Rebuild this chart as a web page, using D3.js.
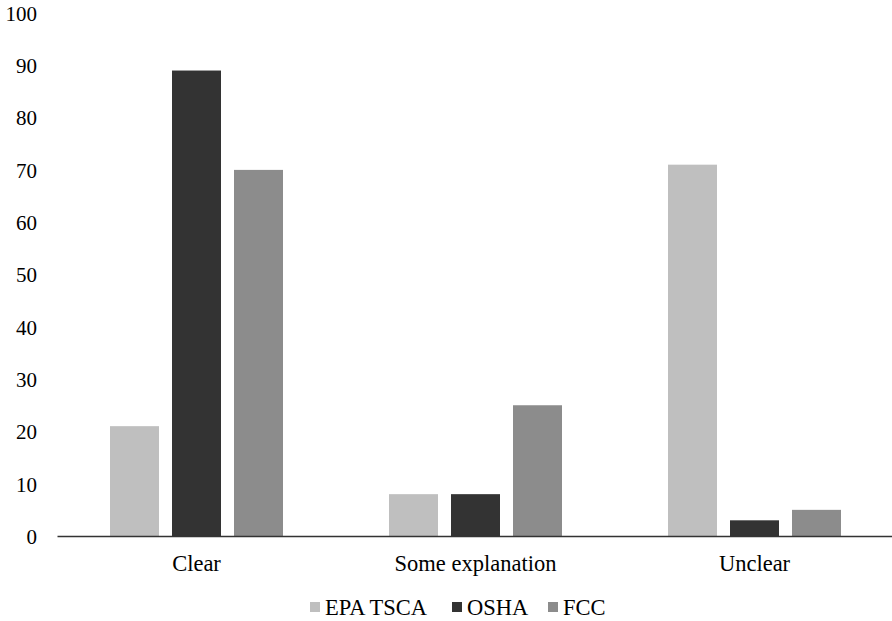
<!DOCTYPE html>
<html>
<head>
<meta charset="utf-8">
<script src="https://cdn.jsdelivr.net/npm/d3@7"></script>
<style>
  html, body { margin: 0; padding: 0; background: #fff; }
  svg { display: block; }
  svg text { font-family: "Liberation Serif", "Tinos", "Times New Roman", Times, "DejaVu Serif", serif; }
</style>
</head>
<body>
<svg id="chart" width="892" height="621"></svg>
<script>
// Categories and series values
const categories = ["Clear", "Some explanation", "Unclear"];
const seriesNames = ["EPA TSCA", "OSHA", "FCC"];
const epaTsca = [21, 8, 71];
const osha = [89, 8, 3];
const fcc = [70, 25, 5];
const yTicks = [0, 10, 20, 30, 40, 50, 60, 70, 80, 90, 100];
const colors = ["#bfbfbf", "#333333", "#8c8c8c"];

const seriesValues = [epaTsca, osha, fcc];
const rows = categories.map((c, i) => ({
  category: c,
  values: seriesNames.map((s, j) => ({ series: s, value: seriesValues[j][i], idx: j }))
}));

const svg = d3.select("#chart");
const plotLeft = 57, plotRight = 894, plotTop = 13, plotBottom = 536;

const x0 = d3.scaleBand().domain(categories).range([plotLeft, plotRight]).padding(0);
const x1 = d3.scaleBand().domain(seriesNames).range([-86.5, 86.5]).paddingInner(13 / 62).paddingOuter(0);
const y = d3.scaleLinear().domain([0, 100]).range([plotBottom, plotTop]);
const color = d3.scaleOrdinal().domain(seriesNames).range(colors);

// Y axis labels (no axis line or ticks)
const yAxis = d3.axisLeft(y).tickValues(yTicks).tickSize(0).tickPadding(0);
const yG = svg.append("g").attr("transform", "translate(37,0)").call(yAxis);
yG.attr("font-family", null);
yG.select(".domain").remove();
yG.selectAll("text")
  .attr("font-size", 21)
  .attr("fill", "#000")
  .attr("dy", "0.35em");

// Bars
const groups = svg.append("g").selectAll("g")
  .data(rows)
  .join("g")
  .attr("transform", d => `translate(${x0(d.category) + x0.bandwidth() / 2},0)`);

groups.selectAll("rect")
  .data(d => d.values)
  .join("rect")
  .attr("x", d => x1(d.series))
  .attr("width", x1.bandwidth())
  .attr("y", d => y(d.value))
  .attr("height", d => y(0) - y(d.value))
  .attr("fill", d => color(d.series));

// X axis baseline and category labels
const xAxis = d3.axisBottom(x0).tickSize(0).tickPadding(0);
const xG = svg.append("g").attr("transform", `translate(0,${plotBottom})`).call(xAxis);
xG.attr("font-family", null);
xG.select(".domain").attr("stroke", "#333").attr("stroke-width", 1.3);
xG.selectAll("text")
  .attr("font-size", 22.5)
  .attr("fill", "#000")
  .attr("y", 27)
  .attr("dy", "0.35em");

// Legend
const legendItems = [
  { name: "EPA TSCA", sq: 310, tx: 325 },
  { name: "OSHA", sq: 452, tx: 467 },
  { name: "FCC", sq: 548, tx: 563 }
];
const legend = svg.append("g");
legendItems.forEach(item => {
  legend.append("rect")
    .attr("x", item.sq).attr("y", 602)
    .attr("width", 10).attr("height", 10)
    .attr("fill", color(item.name));
  legend.append("text")
    .attr("x", item.tx).attr("y", 607)
    .attr("dy", "0.35em")
    .attr("font-size", 22.5)
    .attr("fill", "#000")
    .text(item.name);
});
</script>
</body>
</html>
